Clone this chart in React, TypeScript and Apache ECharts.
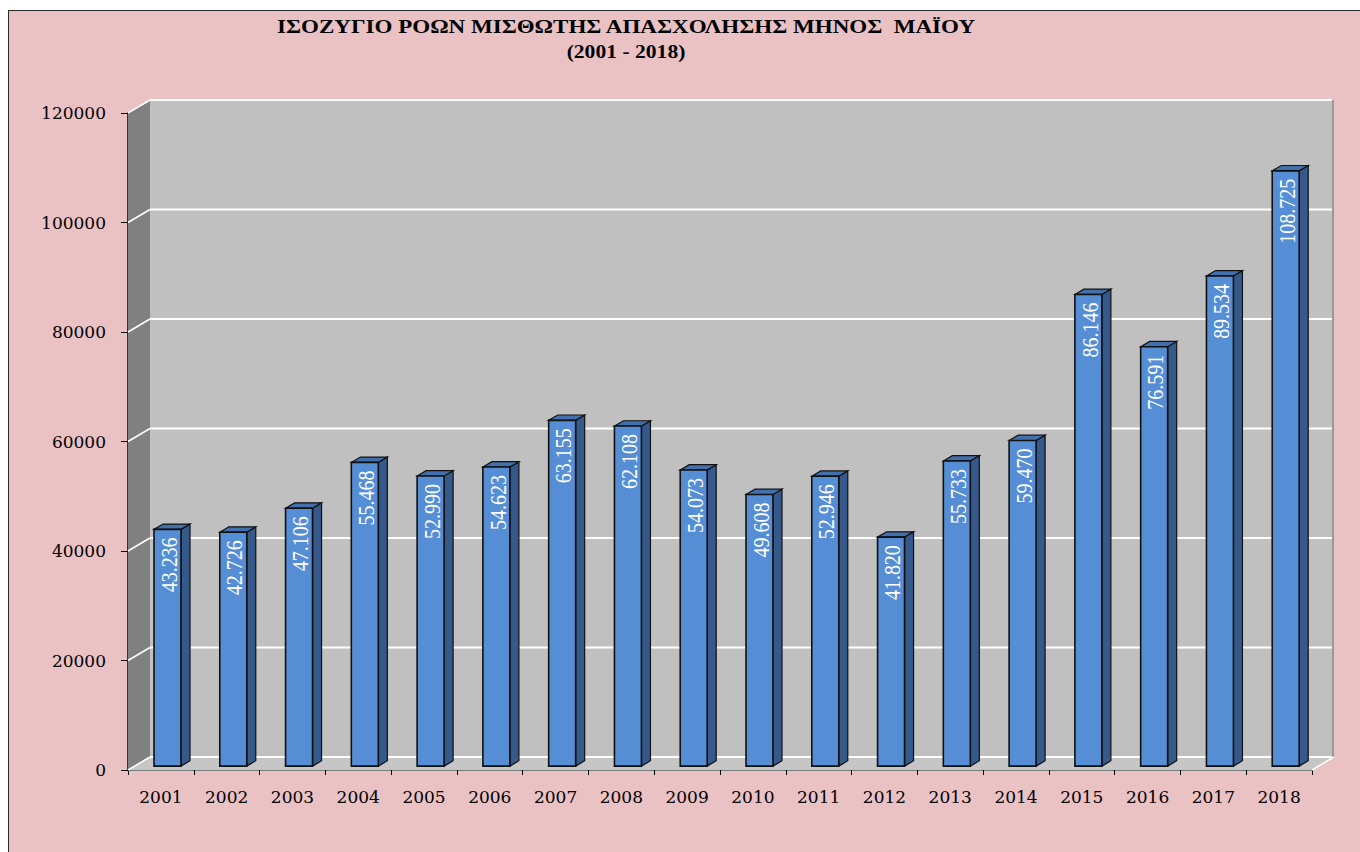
import React, { useEffect, useRef } from "react";
import * as echarts from "echarts";

const years = ["2001", "2002", "2003", "2004", "2005", "2006", "2007", "2008", "2009", "2010", "2011", "2012", "2013", "2014", "2015", "2016", "2017", "2018"];
const values = [43236, 42726, 47106, 55468, 52990, 54623, 63155, 62108, 54073, 49608, 52946, 41820, 55733, 59470, 86146, 76591, 89534, 108725];
const yTicks = [0, 20000, 40000, 60000, 80000, 100000, 120000];
const titleLine1 = "ΙΣΟΖΥΓΙΟ ΡΟΩΝ ΜΙΣΘΩΤΗΣ ΑΠΑΣΧΟΛΗΣΗΣ ΜΗΝΟΣ  ΜΑΪΟΥ";
const titleLine2 = "(2001 - 2018)";

const DX = 22;
const DY = -13;

function fmt(v: number): string {
  return String(v).replace(/\B(?=(\d{3})+(?!\d))/g, ".");
}

export default function App() {
  const ref = useRef<HTMLDivElement>(null);

  useEffect(() => {
    if (!ref.current) return;
    const chart = echarts.init(ref.current, undefined, { renderer: "svg" });

    const wallsRender = (params: any, api: any) => {
      const cs = params.coordSys;
      const L = cs.x, R = cs.x + cs.width, T = cs.y, B = cs.y + cs.height;
      const children: any[] = [];
      children.push({
        type: "polygon",
        shape: { points: [[L + DX, T + DY], [R + DX, T + DY], [R + DX, B + DY], [L + DX, B + DY]] },
        style: { fill: "#C0C0C0" },
      });
      children.push({
        type: "polygon",
        shape: { points: [[L, T], [L + DX, T + DY], [L + DX, B + DY], [L, B]] },
        style: { fill: "#808080" },
      });
      children.push({
        type: "polygon",
        shape: { points: [[L, B], [L + DX, B + DY], [R + DX, B + DY], [R, B]] },
        style: { fill: "#C6C6C6" },
      });
      children.push({
        type: "line",
        shape: { x1: R + DX - 1, y1: T + DY, x2: R + DX - 1, y2: B + DY },
        style: { stroke: "#9A9A9A", lineWidth: 2 },
      });
      children.push({
        type: "line",
        shape: { x1: R, y1: B, x2: R + DX, y2: B + DY },
        style: { stroke: "#FFFFFF", lineWidth: 1.5 },
      });
      for (const t of yTicks) {
        const y = api.coord([0, t])[1];
        children.push({
          type: "line",
          shape: { x1: L + DX, y1: y + DY, x2: R + DX - 2, y2: y + DY },
          style: { stroke: "#FFFFFF", lineWidth: 2 },
        });
        children.push({
          type: "line",
          shape: { x1: L, y1: y, x2: L + DX, y2: y + DY },
          style: { stroke: "#FFFFFF", lineWidth: 1.5 },
        });
      }
      return { type: "group", children };
    };

    const barsRender = (params: any, api: any) => {
      const i = api.value(0);
      const v = api.value(1);
      const top = api.coord([i, v]);
      const base = api.coord([i, 0]);
      const bw = api.size([1, 0])[0];
      const w = bw * 0.41;
      const fx = DX * 0.3, fy = DY * 0.3;
      const dx = DX * 0.41, dy = DY * 0.41;
      const xl = top[0] - w / 2 + fx;
      const xr = top[0] + w / 2 + fx;
      const yt = top[1] + fy;
      const yb = base[1] + fy;
      const stroke = "#111111";
      return {
        type: "group",
        children: [
          {
            type: "polygon",
            shape: { points: [[xr, yt], [xr + dx, yt + dy], [xr + dx, yb + dy], [xr, yb]] },
            style: { fill: "#35598A", stroke, lineWidth: 1.2 },
          },
          {
            type: "polygon",
            shape: { points: [[xl, yt], [xl + dx, yt + dy], [xr + dx, yt + dy], [xr, yt]] },
            style: { fill: "#4270AC", stroke, lineWidth: 1.2 },
          },
          {
            type: "rect",
            shape: { x: xl, y: yt, width: xr - xl, height: yb - yt },
            style: { fill: "#558ED5", stroke, lineWidth: 1.6 },
          },
          {
            type: "text",
            x: (xl + xr) / 2 + 1,
            y: yt + 8,
            rotation: Math.PI / 2,
            scaleY: 1.2,
            style: {
              text: fmt(v),
              fill: "#FFFFFF",
              font: '20px "Liberation Serif"',
              align: "right",
              verticalAlign: "middle",
            },
          },
        ],
      };
    };

    chart.setOption({
      animation: false,
      grid: { left: 128, right: 48, top: 113, bottom: 82, containLabel: false },
      graphic: [
        {
          type: "text",
          x: 626,
          y: 27,
          scaleX: 1.28,
          style: {
            text: titleLine1,
            font: 'bold 18px "Liberation Serif"',
            fill: "#000000",
            align: "center",
            verticalAlign: "middle",
          },
        },
        {
          type: "text",
          x: 626,
          y: 52,
          scaleX: 1.2,
          style: {
            text: titleLine2,
            font: 'bold 18px "Liberation Serif"',
            fill: "#000000",
            align: "center",
            verticalAlign: "middle",
          },
        },
      ],
      xAxis: {
        type: "category",
        data: years,
        axisLine: { show: true, lineStyle: { color: "#7A7A7A", width: 1 } },
        axisTick: { show: true, length: 5, lineStyle: { color: "#000000" } },
        axisLabel: { color: "#000000", fontFamily: "DejaVu Serif", fontSize: 17, margin: 18 },
        splitLine: { show: false },
      },
      yAxis: {
        type: "value",
        min: 0,
        max: 120000,
        interval: 20000,
        axisLine: { show: true, lineStyle: { color: "#000000", width: 1.5 } },
        axisTick: { show: true, length: 7, lineStyle: { color: "#000000" } },
        axisLabel: {
          color: "#000000",
          fontFamily: "DejaVu Serif",
          fontSize: 17,
          margin: 22,
          formatter: (v: number) => String(v),
        },
        splitLine: { show: false },
      },
      series: [
        {
          type: "custom",
          name: "walls",
          z: 1,
          silent: true,
          data: [[0, 0]],
          encode: { x: 0, y: 1 },
          renderItem: wallsRender,
        },
        {
          type: "custom",
          name: "values",
          z: 3,
          data: values.map((v, i) => [i, v]),
          encode: { x: 0, y: 1 },
          renderItem: barsRender,
        },
      ],
    });

    return () => {
      chart.dispose();
    };
  }, []);

  return (
    <div style={{ position: "absolute", left: 0, top: 0, width: 1360, height: 852, background: "#FFFFFF", overflow: "hidden" }}>
      <div
        style={{
          position: "absolute",
          left: 8,
          top: 10,
          width: 1352,
          height: 842,
          background: "#EAC2C4",
          borderLeft: "1px solid #2B2B2B",
          borderTop: "1px solid #2B2B2B",
        }}
      />
      <div ref={ref} style={{ position: "absolute", left: 0, top: 0, width: 1360, height: 852 }} />
    </div>
  );
}
